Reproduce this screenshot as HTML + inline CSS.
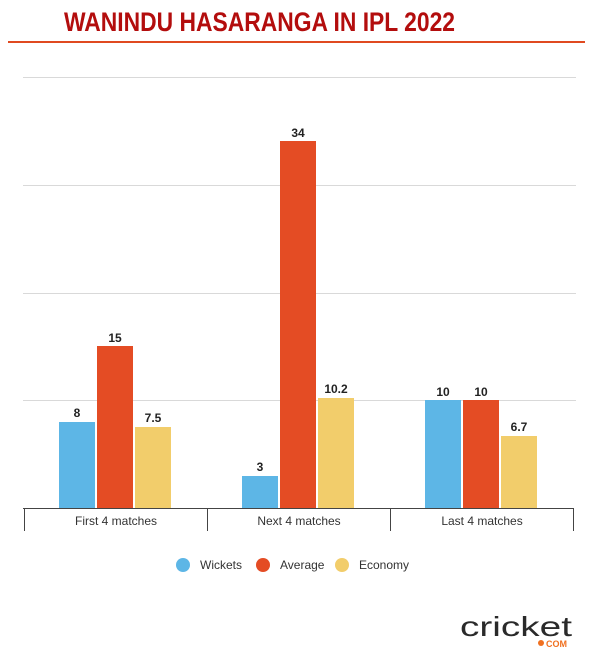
<!DOCTYPE html>
<html><head><meta charset="utf-8"><style>body{margin:0;background:#fff}svg{display:block}</style></head>
<body>
<svg width="600" height="661" xmlns="http://www.w3.org/2000/svg" font-family="Liberation Sans, sans-serif">
<rect width="600" height="661" fill="#fff"/>
<text x="259.5" y="31" text-anchor="middle" font-size="27" font-weight="bold" fill="#b30d0d" textLength="391" lengthAdjust="spacingAndGlyphs">WANINDU HASARANGA IN IPL 2022</text>
<rect x="8" y="41" width="577" height="2" fill="#e04a20"/>
<g stroke="#d9d9d9" stroke-width="1">
<line x1="23" y1="77.5" x2="576" y2="77.5"/>
<line x1="23" y1="185.5" x2="576" y2="185.5"/>
<line x1="23" y1="293.5" x2="576" y2="293.5"/>
<line x1="23" y1="400.5" x2="576" y2="400.5"/>
</g>
<g fill="#5db6e6">
<rect x="59" y="422" width="36" height="86"/>
<rect x="242" y="476" width="36" height="32"/>
<rect x="425" y="400" width="36" height="108"/>
</g>
<g fill="#e44c24">
<rect x="97" y="346" width="36" height="162"/>
<rect x="280" y="141" width="36" height="367"/>
<rect x="463" y="400" width="36" height="108"/>
</g>
<g fill="#f2cd6b">
<rect x="135" y="427" width="36" height="81"/>
<rect x="318" y="398" width="36" height="110"/>
<rect x="501" y="436" width="36" height="72"/>
</g>
<g font-size="12" font-weight="bold" fill="#222" text-anchor="middle">
<text x="77" y="417">8</text><text x="115" y="342">15</text><text x="153" y="422">7.5</text>
<text x="260" y="471">3</text><text x="298" y="137">34</text><text x="336" y="393">10.2</text>
<text x="443" y="396">10</text><text x="481" y="396">10</text><text x="519" y="431">6.7</text>
</g>
<g stroke="#444" stroke-width="1">
<line x1="23" y1="508.5" x2="574" y2="508.5"/>
<line x1="24.5" y1="508" x2="24.5" y2="531"/>
<line x1="207.5" y1="508" x2="207.5" y2="531"/>
<line x1="390.5" y1="508" x2="390.5" y2="531"/>
<line x1="573.5" y1="508" x2="573.5" y2="531"/>
</g>
<g font-size="12" fill="#333" text-anchor="middle">
<text x="116" y="525">First 4 matches</text>
<text x="299" y="525">Next 4 matches</text>
<text x="482" y="525">Last 4 matches</text>
</g>
<g font-size="12" fill="#333">
<circle cx="183" cy="565" r="7" fill="#5db6e6"/><text x="200" y="569">Wickets</text>
<circle cx="263" cy="565" r="7" fill="#e44c24"/><text x="280" y="569">Average</text>
<circle cx="342" cy="565" r="7" fill="#f2cd6b"/><text x="359" y="569">Economy</text>
</g>
<text x="460" y="636" font-size="28" fill="#2a2a2a" textLength="112" lengthAdjust="spacingAndGlyphs">cricket</text>
<circle cx="541" cy="643" r="3" fill="#f07020"/>
<text x="546" y="647" font-size="9" font-weight="bold" fill="#f07020">COM</text>
</svg>
</body></html>
